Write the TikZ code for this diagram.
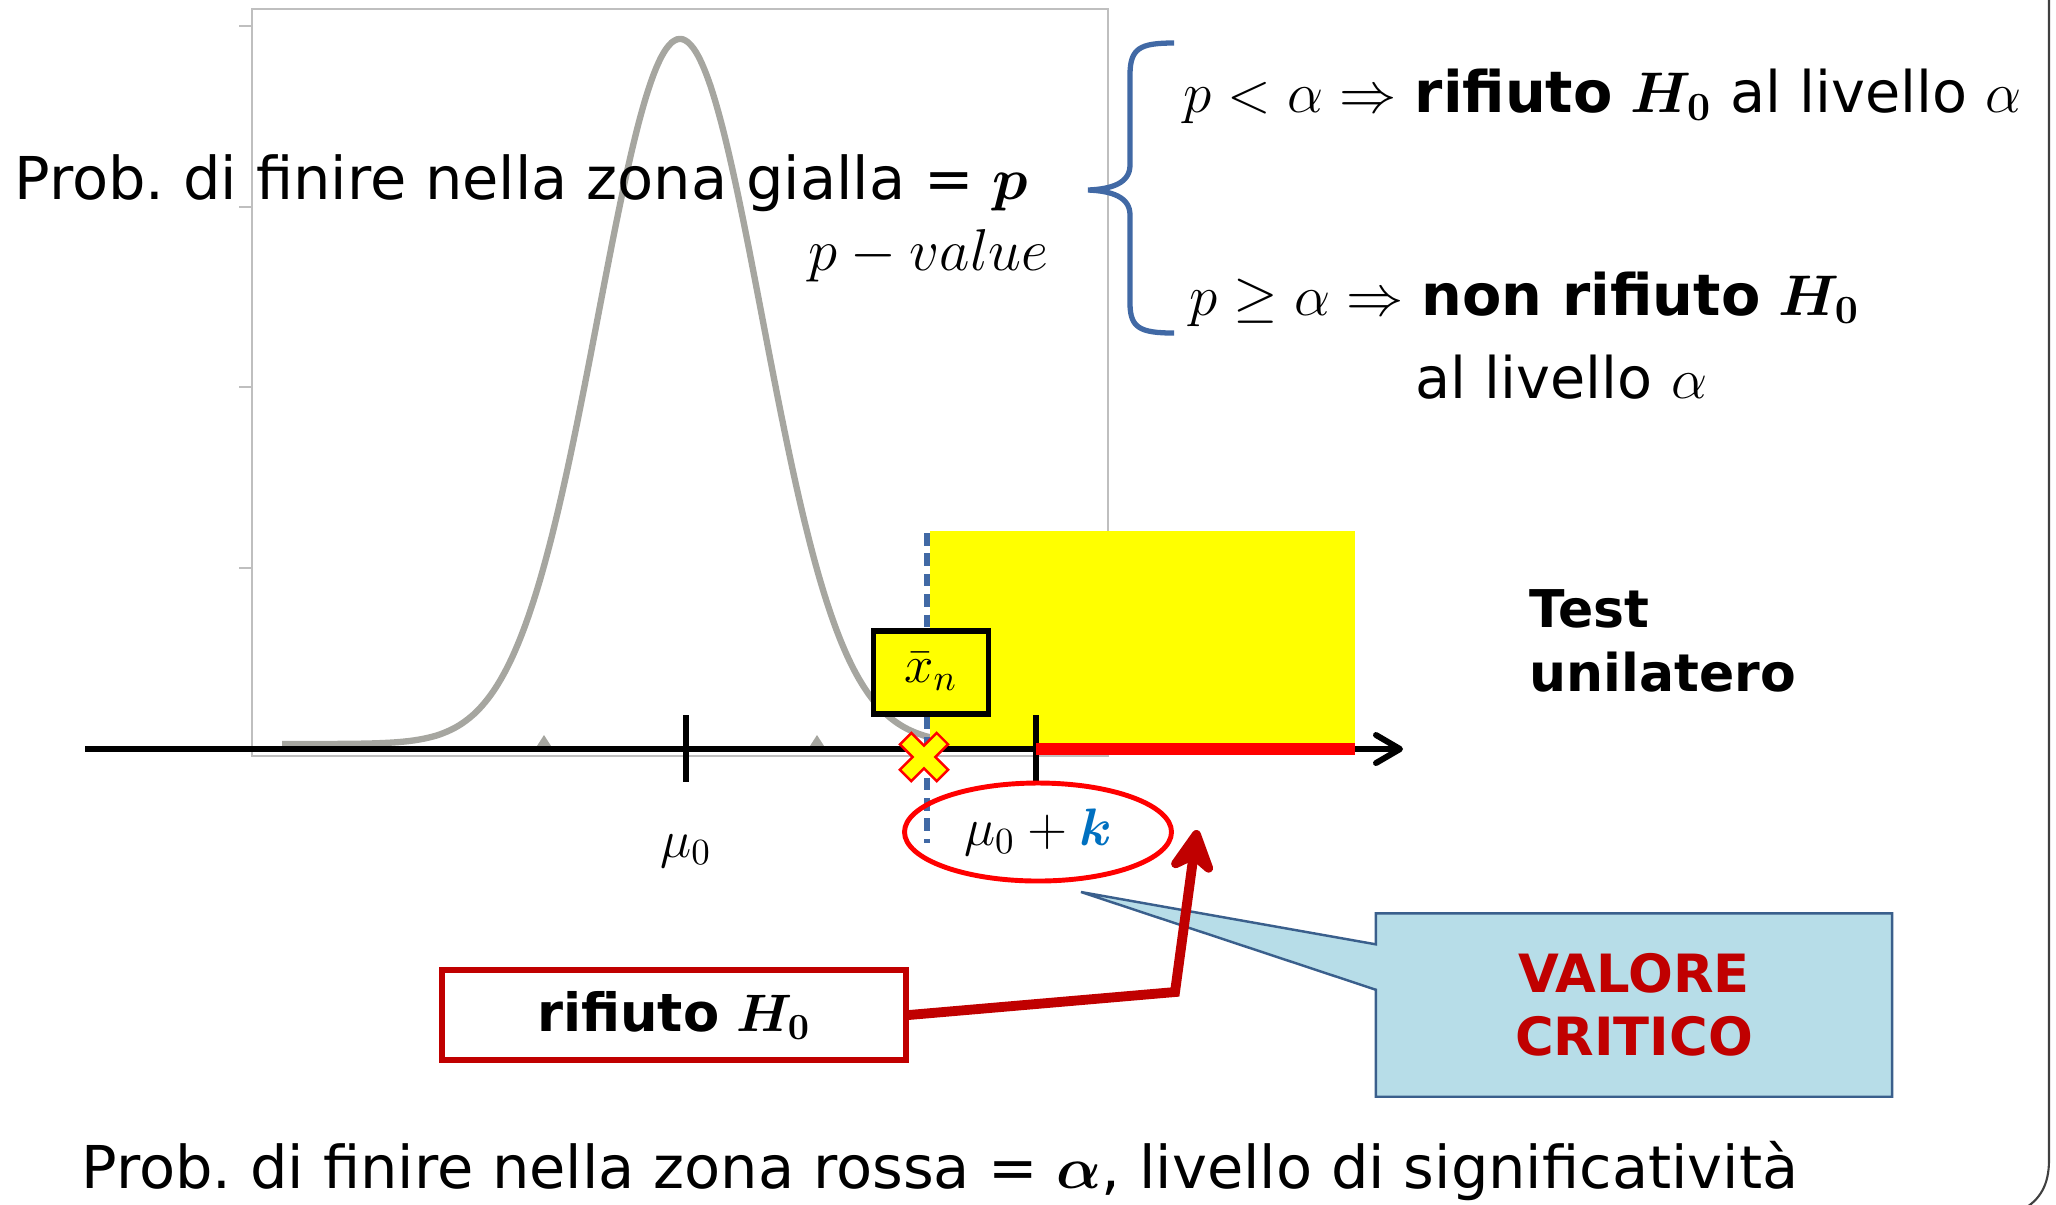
\RequirePackage{fix-cm}
\documentclass[tikz,border=0pt]{standalone}
\usepackage{fontspec}
\setmainfont{DejaVu Sans}
\usepackage{bm}
\usepackage{xcolor}
\usetikzlibrary{shapes.geometric, arrows.meta, positioning, backgrounds}

\definecolor{chartgray}{RGB}{191,191,191}
\definecolor{curvegray}{RGB}{166,166,160}
\definecolor{darkred}{RGB}{192,0,0}
\definecolor{steelblue}{RGB}{65,105,165}
\definecolor{kblue}{RGB}{0,112,192}
\definecolor{zoneyellow}{RGB}{255,255,0}
\definecolor{calloutfill}{RGB}{183,221,232}
\definecolor{calloutline}{RGB}{58,95,140}
\frenchspacing

\begin{document}
\begin{tikzpicture}[
  x=0.1mm, y=-0.1mm,
  bigtxt/.style={font=\fontsize{16.8}{20}\selectfont, inner sep=0pt},
  ruletxt/.style={font=\fontsize{16.3}{20}\selectfont, inner sep=0pt},
  lbl/.style={font=\fontsize{15}{18}\selectfont, inner sep=0pt},
  boldtxt/.style={font=\fontsize{14.8}{18}\selectfont\bfseries, inner sep=0pt},
  chartframe/.style={draw=chartgray, line width=0.45pt},
  gausscurve/.style={draw=curvegray, line width=1.8pt},
  axtick/.style={line width=1.5pt},
  redbox/.style={draw=darkred, line width=1.5pt, minimum width=46.4mm,
    minimum height=9mm, font=\fontsize{15}{18}\selectfont},
  arr/.style={-{Stealth[length=5.4mm, width=5.6mm, inset=1.8mm, round]},
    draw=darkred, line width=2.8pt},
  calloutshape/.style={fill=calloutfill, draw=calloutline, line width=0.7pt}
]
  \useasboundingbox (0,0) rectangle (2056,1204);

  % chart frame and density
  \draw[chartframe] (252,9) rectangle (1108,756);
  \foreach \ty in {26,207,387,568}
    \draw[chartframe] (239,\ty) -- (252,\ty);
  \draw[gausscurve] plot[domain=282:935, samples=120, smooth]
    (\x, {744-705*exp(-0.5*((\x-680)/82)^2)});
  \foreach \tx in {544,817}
    \fill[curvegray] (\tx-9,749) -- (\tx,735) -- (\tx+9,749) -- cycle;

  % p-value zone
  \fill[zoneyellow] (930,531) rectangle (1355,749);
  \draw[steelblue, line width=1.6pt, dash pattern=on 3.6pt off 2.2pt] (927,533) -- (927,843);

  % axis
  \draw[line width=1.7pt, -{Straight Barb[length=2.4mm, width=2.8mm, round]}] (85,749) -- (1403,749);
  \draw[axtick] (686,715) -- (686,782);
  \draw[axtick] (1036,715) -- (1036,782);
  \draw[red, line width=3.4pt] (1036,749) -- (1355,749);

  \node[draw, line width=1.7pt, fill=zoneyellow, minimum width=11.5mm, minimum height=8.3mm, lbl] (xbar) at (931,672) {$\bar{x}_n$};
  \filldraw[fill=zoneyellow, draw=red, line width=0.7pt, shift={(924,757)}, rotate=45]
    (8,26) -- (8,8) -- (26,8) -- (26,-8) -- (8,-8) -- (8,-26) -- (-8,-26) -- (-8,-8)
    -- (-26,-8) -- (-26,8) -- (-8,8) -- (-8,26) -- cycle;

  \node[ellipse, draw=red, line width=1.4pt, minimum width=26.7mm, minimum height=9.8mm, inner sep=0pt, lbl] (crit) at (1038,832) {$\mu_0 + \textcolor{kblue}{\bm{k}}$};
  \node[lbl, anchor=base] (mu) at (686,857) {$\mu_0$};

  % texts
  \node[bigtxt, anchor=base west] (pgialla) at (14,199) {Prob. di finire nella zona gialla = $\bm{p}$};
  \node[bigtxt, anchor=base east] (pvalue) at (1049,270) {$p - value$};
  \draw[steelblue, line width=1.5pt] (1174,43) .. controls (1140,43) and (1130,48) .. (1130,75)
    -- (1130,165) .. controls (1130,183) and (1112,189) .. (1088,190)
    .. controls (1112,191) and (1130,197) .. (1130,215)
    -- (1130,303) .. controls (1130,328) and (1140,333) .. (1174,333);
  \node[ruletxt, anchor=base west] (rule1) at (1183,112) {$p < \alpha \Rightarrow$ \textbf{rifiuto} $\bm{H_0}$ al livello $\alpha$};
  \node[ruletxt, anchor=base west] (rule2) at (1189,315) {$p \geq \alpha \Rightarrow$ \textbf{non rifiuto} $\bm{H_0}$};
  \node[ruletxt, anchor=base west] (rule3) at (1415,398) {al livello $\alpha$};

  \node[boldtxt, anchor=base west] (test) at (1529,627) {Test};
  \node[boldtxt, anchor=base west] (unilat) at (1529,691) {unilatero};

  % rejection box and critical value
  \node[redbox] (rifiuto) at (674,1015) {\textbf{rifiuto} $\bm{H_0}$};
  \node[font=\fontsize{15}{17.9}\selectfont\bfseries, text=darkred, align=center,
    minimum width=51.5mm, minimum height=18.2mm, inner sep=0pt] (valcrit) at (1634,1005) {VALORE\\CRITICO};
  \coordinate (ptip) at (1081,892);
  \begin{scope}[on background layer]
    \draw[calloutshape] (valcrit.north west) -- (valcrit.north east) -- (valcrit.south east)
      -- (valcrit.south west) -- ([yshift=10.7mm]valcrit.south west) -- (ptip)
      -- ([yshift=-3.1mm]valcrit.north west) -- cycle;
  \end{scope}
  \coordinate (abend) at (1175,992);
  \coordinate (atip) at (1197,830);
  \draw[arr] (rifiuto.east) -- (abend) -- (atip);

  \node[bigtxt, anchor=base west] (prossa) at (81,1188) {Prob. di finire nella zona rossa = $\bm{\alpha}$, livello di significatività};

  % slide edge
  \draw[black!75, line width=0.6pt] (2049,0) -- (2049,1160) .. controls (2049,1185) and (2040,1200) .. (2022,1210);
\end{tikzpicture}
\end{document}
